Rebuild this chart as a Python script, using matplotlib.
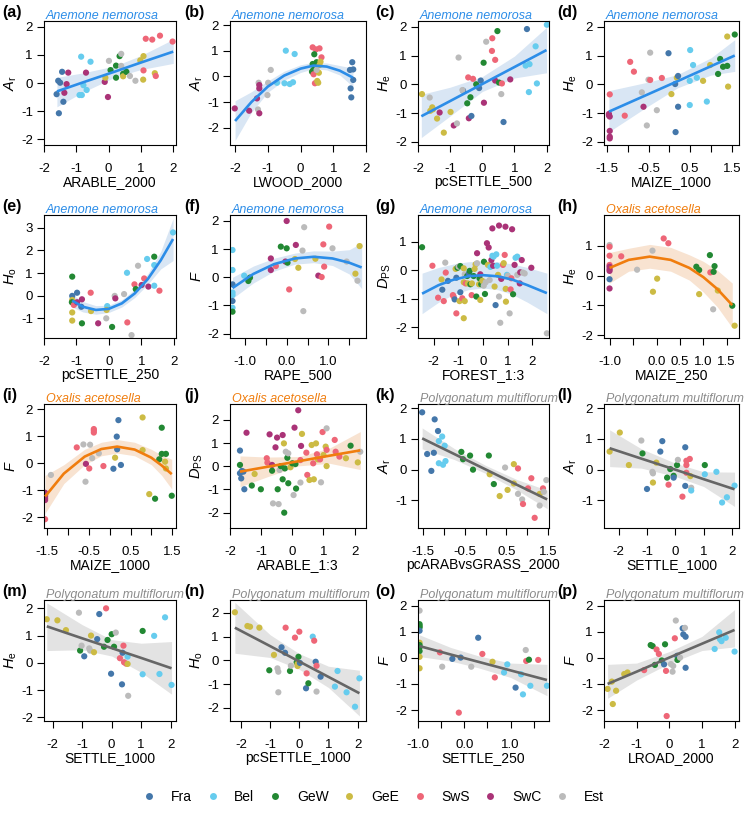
import matplotlib
matplotlib.use("Agg")
import matplotlib.pyplot as plt
from matplotlib.lines import Line2D

plt.rcParams["font.family"] = ["Liberation Sans", "DejaVu Sans"]
plt.rcParams["axes.unicode_minus"] = False
plt.rcParams["mathtext.fontset"] = "custom"
plt.rcParams["mathtext.it"] = "Liberation Sans:italic"
plt.rcParams["mathtext.rm"] = "Liberation Sans"

regions = ["Fra", "Bel", "GeW", "GeE", "SwS", "SwC", "Est"]
region_colors = ["#4477AA", "#66CCEE", "#228833", "#CCBB44", "#EE6677", "#AA3377", "#BBBBBB"]

species = ["Anemone nemorosa", "Oxalis acetosella", "Polygonatum multiflorum"]
species_text = ["#2C8DE8", "#F07D0E", "#8C8C8C"]
species_line = ["#2C8DE8", "#F07D0E", "#666666"]
species_band = ["#D9E6F4", "#F8E3D1", "#E3E3E3"]

# (x, y, region)
a_pts = [(-1.61, -0.40, "Fra"), (-1.54, -1.08, "Fra"), (-1.56, 0.08, "Fra"), (-1.50, 0.01, "Fra"),
         (-1.44, 0.40, "Fra"), (-1.40, -0.67, "Fra"), (-1.37, -0.35, "SwC"), (-1.30, -0.04, "SwC"),
         (-1.25, 0.37, "SwC"), (-0.85, 0.94, "Bel"), (-0.90, -0.43, "Bel"), (-0.83, -0.43, "Bel"),
         (-0.78, -0.08, "Bel"), (-0.70, 0.37, "SwC"), (-0.68, -0.25, "Bel"), (-0.56, 0.76, "Bel"),
         (-0.12, 0.04, "SwC"), (-0.10, 0.19, "GeE"), (-0.02, -0.50, "SwC"), (0.01, 0.79, "Est"),
         (0.06, 0.46, "GeW"), (0.23, 0.19, "GeW"), (0.23, 0.62, "GeW"), (0.34, 0.96, "GeW"),
         (0.39, 1.04, "Est"), (0.39, 0.61, "Est"), (0.45, 0.33, "GeW"), (0.45, 0.24, "GeE"),
         (0.55, 0.40, "GeW"), (0.66, 0.25, "Est"), (0.83, 0.08, "Est"), (0.98, 0.81, "GeE"),
         (1.07, 0.12, "GeE"), (1.08, 0.45, "SwS"), (1.08, 0.96, "GeE"), (1.15, 1.58, "SwS"),
         (1.35, 1.55, "SwS"), (1.43, 0.35, "GeE"), (1.46, 0.25, "SwS"), (1.59, 1.69, "SwS"),
         (1.98, 1.48, "SwS")]
a_fit_x = [-1.6, -0.8, 0.2, 1.0, 2.0]
a_fit_y = [-0.30, 0.02, 0.41, 0.73, 1.12]
a_lo = [-0.85, -0.33, 0.21, 0.48, 0.70]
a_hi = [0.20, 0.36, 0.61, 0.98, 1.56]

b_pts = [(-2.01, -1.25, "SwC"), (-1.57, -1.34, "SwC"), (-1.33, -0.86, "SwC"), (-1.28, -0.25, "Est"),
         (-1.26, -0.34, "SwC"), (-1.26, -0.47, "SwC"), (-1.30, -1.29, "Est"), (-1.26, -1.44, "SwC"),
         (-1.01, -0.73, "Est"), (-0.99, -0.25, "Est"), (-0.91, 0.25, "Est"), (-0.72, -0.25, "Bel"),
         (-0.49, -0.27, "Bel"), (-0.45, 1.00, "Bel"), (-0.33, -0.30, "Bel"), (-0.23, -0.23, "Bel"),
         (-0.18, 0.87, "Bel"), (0.37, 1.13, "SwS"), (0.47, 1.05, "SwS"), (0.58, 1.09, "SwS"),
         (0.64, 0.74, "SwS"), (0.42, 0.86, "GeW"), (0.37, 0.48, "GeW"), (0.49, 0.55, "GeW"),
         (0.39, 0.25, "GeW"), (0.35, 0.18, "GeW"), (0.40, 0.08, "SwS"), (0.44, -0.27, "SwS"),
         (0.51, -0.18, "GeE"), (0.54, -0.25, "GeE"), (0.56, 0.14, "GeE"), (0.58, 0.44, "GeE"),
         (0.61, 0.57, "GeE"), (0.49, 0.25, "Est"), (1.58, 0.55, "Fra"), (1.51, 0.25, "Fra"),
         (1.61, 0.27, "Fra"), (1.53, -0.47, "Fra"), (1.55, -0.82, "Fra"), (1.61, -0.14, "Fra")]
b_fit_x = [-2.0, -1.5, -1.0, -0.5, 0.0, 0.4, 0.8, 1.2, 1.6]
b_fit_y = [-1.74, -1.00, -0.40, 0.03, 0.30, 0.42, 0.38, 0.22, -0.05]
b_lo = [-2.50, -1.40, -0.62, -0.15, 0.15, 0.30, 0.25, 0.05, -0.40]
b_hi = [-0.95, -0.60, -0.18, 0.20, 0.45, 0.55, 0.52, 0.42, 0.32]

c_pts = [(-1.88, -0.34, "GeE"), (-1.64, -0.46, "Est"), (-1.62, -0.92, "GeE"), (-1.56, -0.80, "GeE"),
         (-1.54, -0.87, "GeE"), (-1.41, -1.19, "GeE"), (-1.33, -0.98, "SwC"), (-1.20, -1.68, "GeE"),
         (-0.99, -0.96, "GeE"), (-0.89, -1.43, "SwC"), (-0.74, 0.93, "Est"), (-0.79, -1.36, "Est"),
         (-0.60, -0.22, "Fra"), (-0.62, -0.20, "Est"), (-0.44, 0.24, "SwS"), (-0.37, -0.45, "GeW"),
         (-0.47, -0.66, "GeW"), (-0.42, -1.18, "SwC"), (-0.34, -1.10, "Fra"), (-0.29, 0.19, "SwS"),
         (-0.19, 0.00, "GeW"), (-0.10, -0.13, "Fra"), (-0.05, 0.13, "Fra"), (0.04, 0.75, "GeW"),
         (0.05, -0.64, "SwC"), (0.12, 1.48, "Est"), (0.31, 1.60, "SwS"), (0.30, 1.16, "SwS"),
         (0.40, 0.85, "SwS"), (0.40, 0.13, "SwC"), (0.47, 1.85, "GeW"), (0.52, 0.06, "GeW"),
         (0.61, 0.03, "SwS"), (0.59, -0.34, "Est"), (0.66, -1.31, "Fra"), (0.87, 0.17, "SwC"),
         (1.35, 0.65, "Bel"), (1.39, 1.92, "Fra"), (1.47, 0.70, "Bel"), (1.45, -0.27, "Bel"),
         (1.66, 1.32, "Bel"), (1.70, 0.03, "Bel"), (2.01, 2.07, "Bel")]
c_fit_x = [-1.9, -1.0, 0.0, 1.0, 2.0]
c_fit_y = [-1.11, -0.58, 0.01, 0.60, 1.19]
c_lo = [-1.85, -1.10, -0.25, 0.22, 0.40]
c_hi = [-0.35, -0.10, 0.27, 0.98, 1.98]

d_pts = [(-1.43, -0.35, "SwS"), (-1.45, -1.03, "SwC"), (-1.43, -1.12, "SwC"), (-1.45, -1.08, "SwC"),
         (-1.43, -1.62, "SwC"), (-1.43, -1.82, "SwC"), (-1.43, -1.88, "SwC"), (-1.07, -1.09, "SwS"),
         (-0.94, 0.78, "SwS"), (-0.85, 0.44, "SwS"), (-0.66, -0.28, "Est"), (-0.62, -0.78, "SwC"),
         (-0.54, -1.43, "Est"), (-0.50, 0.16, "Est"), (-0.46, 1.10, "Est"), (-0.46, 0.15, "SwS"),
         (-0.30, -0.90, "Est"), (-0.18, 0.22, "SwS"), (-0.02, 1.08, "Fra"), (0.05, -0.34, "GeE"),
         (0.14, 0.01, "Fra"), (0.15, -1.66, "Fra"), (0.18, 0.23, "GeE"), (0.21, 0.29, "Fra"),
         (0.21, -0.78, "Fra"), (0.50, 1.19, "Bel"), (0.49, 0.12, "Bel"), (0.49, -0.72, "Bel"),
         (0.57, 0.67, "Bel"), (0.66, 0.23, "Bel"), (0.81, 0.12, "GeE"), (0.90, -0.60, "Bel"),
         (0.98, 0.67, "GeE"), (1.17, 0.36, "GeW"), (1.22, 0.88, "GeW"), (1.29, 0.61, "GeW"),
         (1.39, 0.64, "GeW"), (1.39, 1.66, "GeE"), (1.41, -0.08, "GeE"), (1.57, 1.73, "GeW")]
d_fit_x = [-1.45, -0.5, 0.2, 1.0, 1.57]
d_fit_y = [-0.95, -0.34, 0.11, 0.63, 1.00]
d_lo = [-1.65, -0.75, -0.12, 0.32, 0.45]
d_hi = [-0.22, 0.08, 0.34, 0.92, 1.55]

e_pts = [(-1.13, 0.84, "GeW"), (-1.13, -0.01, "Fra"), (-1.13, -0.19, "GeE"), (-1.14, -0.29, "GeW"),
         (-1.13, -0.74, "GeE"), (-1.13, -1.10, "GeE"), (-1.08, -0.41, "SwS"), (-0.98, 0.13, "Fra"),
         (-0.98, -0.29, "SwC"), (-0.85, -0.49, "Fra"), (-0.83, -0.16, "SwC"), (-0.83, -1.22, "GeW"),
         (-0.56, 0.13, "SwS"), (-0.55, -0.68, "GeE"), (-0.33, -1.22, "SwC"), (-0.08, -1.00, "Est"),
         (-0.05, -0.46, "Bel"), (-0.07, -0.63, "GeE"), (0.10, -1.38, "GeW"), (0.18, -0.01, "Est"),
         (0.20, -0.12, "SwC"), (0.47, 0.07, "Est"), (0.56, 1.01, "Bel"), (0.57, -1.18, "SwS"),
         (0.70, -1.74, "Est"), (0.79, 0.50, "SwS"), (0.83, 0.29, "GeW"), (0.90, 1.32, "Est"),
         (1.01, 0.47, "SwC"), (1.09, 0.76, "SwS"), (1.18, 1.62, "Bel"), (1.22, 0.40, "SwC"),
         (1.40, 1.72, "GeW"), (1.40, 1.35, "Bel"), (1.40, 0.44, "Bel"), (1.56, 0.22, "SwS"),
         (1.98, 2.79, "Bel")]
e_fit_x = [-1.13, -0.8, -0.4, 0.0, 0.4, 0.8, 1.2, 1.6, 1.98]
e_fit_y = [-0.22, -0.49, -0.63, -0.58, -0.34, 0.10, 0.73, 1.56, 2.50]
e_lo = [-0.50, -0.72, -0.82, -0.74, -0.50, -0.08, 0.50, 1.18, 1.55]
e_hi = [0.05, -0.26, -0.44, -0.42, -0.18, 0.28, 0.96, 1.95, 3.40]

f_pts = [(-1.30, 0.97, "Bel"), (-1.30, 0.26, "Bel"), (-1.30, -0.25, "Fra"), (-1.30, -0.54, "Bel"),
         (-1.30, -0.63, "Bel"), (-1.30, -0.84, "Fra"), (-1.30, -1.08, "Bel"), (-1.30, -1.22, "GeW"),
         (-1.02, 0.06, "Bel"), (-0.92, -0.13, "GeW"), (-0.88, -0.01, "GeW"), (-0.38, 0.67, "SwC"),
         (-0.38, 0.26, "SwC"), (-0.26, 0.40, "SwS"), (-0.14, 1.09, "GeW"), (-0.03, 0.56, "SwC"),
         (0.00, 1.03, "GeW"), (0.02, 0.52, "GeW"), (0.00, 2.00, "SwC"), (0.06, -0.43, "SwS"),
         (0.22, 1.15, "SwC"), (0.20, 0.65, "GeE"), (0.28, 0.34, "GeE"), (0.38, 0.95, "Est"),
         (0.40, -1.20, "Est"), (0.42, 1.78, "Est"), (0.69, 0.66, "GeE"), (0.76, 0.06, "SwC"),
         (0.84, 0.01, "SwS"), (0.90, 0.38, "SwS"), (0.88, 1.17, "SwS"), (1.02, 1.80, "SwS"),
         (1.10, 1.03, "Est"), (1.44, 0.56, "Est"), (1.65, 0.13, "GeE"), (1.70, -0.12, "Est"),
         (1.75, 1.11, "GeE")]
f_fit_x = [-1.3, -0.8, -0.3, 0.2, 0.65, 1.1, 1.5, 1.8]
f_fit_y = [-0.38, 0.12, 0.47, 0.67, 0.73, 0.67, 0.52, 0.35]
f_lo = [-0.75, -0.20, 0.22, 0.47, 0.52, 0.42, 0.12, -0.40]
f_hi = [0.00, 0.40, 0.68, 0.86, 0.94, 0.93, 0.98, 1.22]

g_pts = [(-2.47, 0.81, "GeW"), (-2.05, 0.16, "SwS"), (-1.82, -0.96, "SwS"), (-1.65, -0.68, "Fra"),
         (-1.68, -0.32, "GeE"), (-1.59, -1.08, "SwS"), (-1.53, 0.27, "Est"), (-1.51, -0.08, "SwS"),
         (-1.42, -0.37, "Fra"), (-1.22, -0.87, "SwS"), (-1.19, -0.92, "SwS"), (-1.15, -1.02, "Fra"),
         (-1.11, 0.05, "GeE"), (-1.08, -1.51, "SwS"), (-1.08, -0.26, "Fra"), (-1.03, 0.09, "GeW"),
         (-0.99, 0.13, "Est"), (-0.92, 0.15, "GeW"), (-0.92, -0.77, "Fra"), (-0.95, -1.08, "GeE"),
         (-0.84, -0.98, "SwS"), (-0.78, 0.07, "GeE"), (-0.78, -0.42, "GeE"), (-0.74, -1.08, "GeE"),
         (-0.74, -0.14, "Est"), (-0.78, -1.68, "GeE"), (-0.70, -0.46, "SwS"), (-0.64, -0.20, "GeW"),
         (-0.61, -0.46, "GeE"), (-0.57, -0.11, "Fra"), (-0.54, -0.02, "GeW"), (-0.51, -0.49, "GeW"),
         (-0.46, -0.87, "SwS"), (-0.45, -0.46, "GeE"), (-0.38, -0.20, "GeW"), (-0.34, 0.05, "GeE"),
         (-0.30, 0.21, "GeE"), (-0.27, -0.92, "GeW"), (-0.24, 0.25, "Est"), (-0.24, 0.60, "SwC"),
         (-0.16, -0.49, "GeE"), (-0.14, -0.28, "GeW"), (-0.11, -0.14, "SwC"), (-0.11, -1.04, "GeE"),
         (-0.07, -0.49, "GeW"), (-0.03, -0.37, "GeE"), (0.03, -0.54, "Est"), (0.04, 0.30, "GeW"),
         (0.08, -0.83, "GeW"), (0.11, -0.42, "Est"), (0.16, 0.95, "SwC"), (0.20, 0.19, "GeE"),
         (0.23, 0.80, "SwC"), (0.27, -0.34, "Est"), (0.30, 0.12, "Bel"), (0.34, 0.36, "SwC"),
         (0.38, 1.47, "SwC"), (0.38, 0.51, "Bel"), (0.41, 0.16, "SwC"), (0.43, 0.48, "Bel"),
         (0.47, -0.57, "GeE"), (0.51, -1.22, "Fra"), (0.54, 0.56, "Bel"), (0.57, 0.16, "Bel"),
         (0.61, -0.16, "GeE"), (0.65, 1.57, "SwC"), (0.65, -0.92, "Est"), (0.70, -1.84, "Est"),
         (0.74, -0.30, "SwC"), (0.81, 0.19, "SwS"), (0.84, 0.25, "GeE"), (0.88, 0.54, "SwS"),
         (0.91, 1.53, "SwC"), (0.92, -0.65, "GeE"), (0.93, -1.10, "GeE"), (0.97, -0.16, "Bel"),
         (1.01, -0.19, "Est"), (1.08, -1.51, "Est"), (1.12, -0.67, "SwS"), (1.15, -0.28, "SwS"),
         (1.18, 1.44, "SwC"), (1.22, -0.84, "GeW"), (1.28, 0.19, "SwC"), (1.32, 0.44, "Bel"),
         (1.39, 0.48, "Bel"), (1.39, -0.16, "Est"), (1.49, -0.46, "SwC"), (1.51, -0.07, "SwC"),
         (1.57, 0.36, "SwC"), (1.62, -0.08, "Est"), (1.69, -0.11, "Est"), (1.96, 0.09, "SwC"),
         (2.59, -2.21, "Est")]
g_fit_x = [-2.47, -1.8, -1.2, -0.6, 0.0, 0.6, 1.2, 1.8, 2.59]
g_fit_y = [-0.82, -0.52, -0.33, -0.21, -0.17, -0.21, -0.33, -0.52, -0.80]
g_lo = [-1.52, -1.12, -0.85, -0.68, -0.62, -0.68, -0.85, -1.12, -1.52]
g_hi = [-0.10, 0.10, 0.22, 0.30, 0.32, 0.30, 0.22, 0.10, -0.10]

h_pts = [(-1.01, 1.03, "Est"), (-1.01, 0.97, "SwS"), (-1.01, 0.67, "SwS"), (-1.01, 0.36, "SwS"),
         (-1.01, 0.30, "SwC"), (-1.01, 0.22, "SwC"), (-1.01, 0.16, "SwC"), (-1.01, -0.12, "Fra"),
         (-1.01, -0.43, "SwC"), (-0.76, 0.65, "SwS"), (-0.42, 0.20, "Est"), (-0.09, 0.84, "Est"),
         (-0.08, -0.54, "GeE"), (0.01, -0.10, "GeE"), (0.15, 1.25, "SwS"), (0.25, 1.09, "SwS"),
         (0.85, 0.30, "GeW"), (0.91, 0.19, "GeW"), (0.91, -0.62, "GeE"), (1.14, 0.69, "GeW"),
         (1.15, 0.11, "SwS"), (1.22, 0.13, "GeW"), (1.24, 0.32, "GeW"), (1.21, -1.13, "Est"),
         (1.31, -0.50, "GeE"), (1.62, -1.01, "GeW"), (1.67, -1.68, "GeE")]
h_fit_x = [-1.01, -0.6, -0.15, 0.3, 0.7, 1.0, 1.3, 1.62]
h_fit_y = [0.26, 0.53, 0.64, 0.53, 0.26, -0.05, -0.45, -0.99]
h_lo = [-0.25, 0.15, 0.25, 0.15, -0.15, -0.55, -1.05, -1.75]
h_hi = [0.78, 0.92, 1.05, 0.95, 0.70, 0.48, 0.18, -0.25]

i_pts = [(-1.55, -1.09, "SwC"), (-1.55, -1.17, "SwC"), (-1.55, -1.23, "SwC"), (-1.55, -1.30, "SwC"),
         (-1.55, -1.36, "SwC"), (-1.55, -2.07, "SwS"), (-1.41, -0.43, "Est"), (-0.79, 0.59, "SwS"),
         (-0.63, 0.70, "Est"), (-0.57, -0.02, "SwC"), (-0.58, -0.68, "Est"), (-0.49, -0.19, "SwS"),
         (-0.47, 0.69, "Est"), (-0.42, 0.19, "Est"), (-0.38, 1.27, "SwS"), (-0.38, 1.21, "SwS"),
         (-0.38, 1.14, "SwS"), (-0.26, 0.37, "Est"), (-0.15, -0.10, "SwS"), (0.09, -0.20, "Fra"),
         (0.13, 0.21, "GeE"), (0.17, 0.99, "Fra"), (0.18, 0.52, "Fra"), (0.21, 1.60, "Fra"),
         (0.27, -0.06, "Fra"), (0.79, 1.70, "GeE"), (0.79, 0.49, "GeE"), (0.95, -1.14, "GeE"),
         (1.09, -1.31, "GeW"), (1.19, 0.15, "GeW"), (1.25, 1.32, "GeW"), (1.25, 0.35, "GeW"),
         (1.35, 0.35, "GeW"), (1.33, 0.06, "GeE"), (1.35, -0.19, "GeE"), (1.49, -1.20, "GeW")]
i_fit_x = [-1.55, -1.1, -0.6, -0.2, 0.18, 0.6, 1.0, 1.25, 1.49]
i_fit_y = [-1.23, -0.38, 0.25, 0.53, 0.62, 0.51, 0.21, -0.08, -0.40]
i_lo = [-1.85, -0.75, -0.05, 0.28, 0.38, 0.28, -0.05, -0.45, -0.95]
i_hi = [-0.45, -0.05, 0.52, 0.78, 0.88, 0.78, 0.52, 0.30, 0.15]

j_pts = [(-1.68, 0.68, "Fra"), (-1.68, 0.06, "GeW"), (-1.68, -0.30, "Fra"), (-1.64, -0.52, "Fra"),
         (-1.62, -0.20, "Fra"), (-1.57, -0.23, "Fra"), (-1.54, -0.99, "Fra"), (-1.47, 1.45, "SwC"),
         (-1.30, -0.83, "GeW"), (-1.21, -0.33, "GeE"), (-1.01, -0.99, "GeW"), (-0.82, 0.35, "SwS"),
         (-0.80, 0.16, "SwS"), (-0.73, 1.38, "SwC"), (-0.65, 0.06, "SwC"), (-0.65, -0.19, "GeW"),
         (-0.62, -1.60, "Est"), (-0.54, 0.82, "SwC"), (-0.49, 1.24, "SwC"), (-0.47, -0.99, "GeW"),
         (-0.44, -1.63, "Est"), (-0.41, -0.16, "Est"), (-0.37, 0.01, "GeW"), (-0.31, 1.35, "SwC"),
         (-0.31, -0.56, "GeW"), (-0.27, 0.99, "GeE"), (-0.26, -2.00, "GeW"), (-0.24, -0.09, "GeW"),
         (-0.21, 0.63, "Est"), (-0.16, 0.37, "GeW"), (-0.13, 0.56, "Est"), (-0.13, -0.73, "GeW"),
         (-0.06, -0.04, "GeE"), (0.00, 0.13, "GeW"), (0.04, -1.24, "Est"), (0.07, 1.67, "SwC"),
         (0.10, 0.10, "GeW"), (0.12, -0.96, "GeW"), (0.19, 2.42, "SwC"), (0.26, -0.70, "Est"),
         (0.26, 0.27, "SwS"), (0.28, 0.88, "SwC"), (0.31, 1.40, "GeE"), (0.45, 0.59, "SwS"),
         (0.48, -0.37, "SwS"), (0.55, -0.59, "GeE"), (0.62, 0.92, "GeE"), (0.67, 0.13, "SwS"),
         (0.69, -0.56, "GeE"), (0.76, 0.99, "GeE"), (0.79, 0.52, "SwS"), (0.82, 0.30, "GeE"),
         (0.89, 0.30, "SwS"), (0.92, -0.69, "Est"), (0.97, 1.48, "SwS"), (1.00, 0.49, "GeE"),
         (1.07, 0.85, "GeE"), (1.10, 0.71, "SwS"), (1.10, 0.01, "GeE"), (1.10, 1.64, "Est"),
         (1.36, 1.14, "SwS"), (1.39, 0.63, "SwS"), (1.51, 0.42, "SwS"), (1.72, 0.35, "GeE"),
         (1.87, 0.89, "GeW"), (2.10, 0.17, "GeE"), (2.18, 0.63, "Est")]
j_fit_x = [-1.68, -0.8, 0.2, 1.2, 2.18]
j_fit_y = [-0.23, -0.02, 0.22, 0.46, 0.69]
j_lo = [-0.88, -0.45, 0.02, 0.13, -0.14]
j_hi = [0.45, 0.40, 0.42, 0.79, 1.50]

k_pts = [(-1.52, 1.87, "Fra"), (-1.40, 0.51, "Fra"), (-1.30, -0.04, "Fra"), (-1.24, 0.55, "Fra"),
         (-1.22, 1.64, "Fra"), (-1.14, 1.26, "Fra"), (-1.12, 0.93, "Bel"), (-1.12, 0.21, "Bel"),
         (-1.04, 1.08, "Bel"), (-1.02, 0.16, "Bel"), (-0.98, 0.78, "Bel"), (-0.96, 0.28, "Bel"),
         (-0.58, 0.58, "GeW"), (-0.54, 0.34, "GeW"), (-0.37, 0.46, "GeW"), (-0.30, 0.00, "GeW"),
         (0.08, 0.46, "GeW"), (0.10, -0.15, "GeE"), (0.20, -0.47, "GeW"), (0.34, -0.86, "GeE"),
         (0.47, 0.07, "Est"), (0.53, -0.66, "GeE"), (0.68, 0.18, "GeE"), (0.68, -0.45, "GeE"),
         (0.78, 0.04, "SwS"), (0.78, -0.79, "Est"), (0.88, -0.97, "Est"), (0.90, -1.12, "SwS"),
         (1.02, -0.61, "SwS"), (1.10, -0.28, "SwS"), (1.18, -1.57, "SwS"), (1.30, -1.17, "Est"),
         (1.30, -0.79, "GeE"), (1.38, -0.61, "SwS"), (1.40, -0.72, "Est"), (1.46, -0.34, "Est")]
k_fit_x = [-1.52, -0.75, 0.0, 0.75, 1.48]
k_fit_y = [1.02, 0.51, 0.01, -0.49, -0.97]
k_lo = [0.68, 0.33, -0.12, -0.66, -1.27]
k_hi = [1.36, 0.69, 0.14, -0.32, -0.67]

l_pts = [(-2.32, 0.59, "GeE"), (-1.96, 1.21, "GeE"), (-1.64, 0.15, "GeE"), (-1.20, 0.95, "Est"),
         (-1.16, 0.53, "GeW"), (-1.00, -0.63, "Fra"), (-0.81, -0.07, "Est"), (-0.79, -0.12, "Est"),
         (-0.79, -0.42, "GeE"), (-0.67, 0.23, "GeE"), (-0.53, 0.59, "Fra"), (-0.46, 0.93, "Fra"),
         (-0.29, -0.26, "GeW"), (-0.24, -0.49, "SwS"), (-0.18, 0.02, "GeW"), (-0.06, -0.20, "GeW"),
         (-0.06, -0.26, "Fra"), (0.06, 0.15, "GeW"), (0.09, 0.32, "Est"), (0.25, -0.88, "SwS"),
         (0.35, -0.53, "Fra"), (0.35, 0.73, "Fra"), (0.39, 0.29, "SwS"), (0.39, 0.15, "SwS"),
         (0.39, -0.10, "SwS"), (0.51, 0.35, "SwS"), (0.53, -0.21, "GeE"), (0.56, -0.59, "Est"),
         (0.56, -0.68, "Bel"), (1.04, 0.15, "GeW"), (1.04, -0.15, "Bel"), (1.45, -0.07, "Bel"),
         (1.82, -0.90, "Bel"), (1.65, -1.07, "Bel"), (2.09, -0.52, "Bel")]
l_fit_x = [-2.32, -1.2, 0.0, 1.0, 2.09]
l_fit_y = [0.70, 0.36, 0.00, -0.31, -0.64]
l_lo = [0.10, 0.05, -0.22, -0.55, -1.20]
l_hi = [1.30, 0.68, 0.21, -0.07, -0.08]

m_pts = [(-2.20, 1.60, "GeE"), (-1.84, 1.56, "GeE"), (-1.55, 1.20, "GeE"), (-1.11, 1.84, "Est"),
         (-1.07, 0.45, "GeW"), (-1.02, 0.63, "Est"), (-0.93, 0.24, "Fra"), (-0.76, 0.53, "Est"),
         (-0.73, 0.45, "Est"), (-0.70, 1.00, "GeE"), (-0.60, 0.39, "GeE"), (-0.49, 0.87, "Fra"),
         (-0.42, 1.79, "Fra"), (-0.26, 0.59, "GeW"), (-0.19, 2.00, "SwS"), (-0.14, 0.84, "GeW"),
         (-0.02, -0.40, "Fra"), (0.00, 1.05, "GeW"), (0.08, 0.59, "GeW"), (0.14, 1.11, "Est"),
         (0.28, 0.17, "SwS"), (0.35, -0.79, "Fra"), (0.37, 0.37, "Fra"), (0.40, 0.63, "SwS"),
         (0.42, 0.02, "SwS"), (0.49, -0.03, "SwS"), (0.54, -0.04, "GeE"), (0.54, 0.23, "Bel"),
         (0.56, -1.21, "Est"), (1.05, -0.42, "Bel"), (1.05, 1.17, "GeW"), (1.44, 0.99, "Bel"),
         (1.62, -0.41, "Bel"), (1.81, 1.67, "Bel"), (2.03, -0.81, "Bel")]
m_fit_x = [-2.2, -1.0, 0.0, 1.0, 2.03]
m_fit_y = [1.34, 0.90, 0.54, 0.18, -0.20]
m_lo = [0.45, 0.48, 0.25, -0.35, -1.15]
m_hi = [2.20, 1.40, 0.85, 0.72, 0.78]

n_pts = [(-2.21, 2.03, "GeE"), (-1.78, 1.45, "GeE"), (-1.69, 1.42, "GeE"), (-1.37, 1.38, "GeE"),
         (-1.03, -0.42, "GeW"), (-0.87, 0.23, "GeE"), (-0.75, -0.34, "Est"), (-0.72, -1.35, "Est"),
         (-0.72, -0.48, "Est"), (-0.61, 0.55, "Fra"), (-0.49, 0.32, "Fra"), (-0.47, 1.38, "SwS"),
         (-0.32, -0.45, "GeW"), (-0.29, -0.23, "Est"), (-0.15, 0.96, "SwS"), (-0.09, -0.08, "GeW"),
         (-0.06, -0.24, "GeE"), (-0.06, -0.15, "GeE"), (-0.03, 0.15, "GeW"), (0.00, 1.21, "SwS"),
         (0.02, -0.11, "Fra"), (0.23, -1.18, "Fra"), (0.25, -0.55, "SwS"), (0.31, -0.97, "GeW"),
         (0.46, 1.00, "Bel"), (0.51, 0.83, "SwS"), (0.56, -0.06, "Fra"), (0.59, -0.23, "SwS"),
         (0.59, -1.32, "Est"), (0.73, -0.69, "Fra"), (1.22, -1.11, "Bel"), (1.31, -0.45, "Bel"),
         (1.62, -1.35, "Bel"), (1.91, -1.96, "Bel"), (2.06, -0.76, "Bel")]
n_fit_x = [-2.21, -1.0, 0.0, 1.0, 2.06]
n_fit_y = [1.38, 0.60, -0.05, -0.70, -1.39]
n_lo = [0.30, 0.12, -0.38, -1.15, -2.35]
n_hi = [2.45, 1.08, 0.28, -0.25, -0.42]

o_pts = [(-0.97, 1.81, "Est"), (-0.97, 1.29, "GeW"), (-0.97, 1.22, "GeW"), (-0.97, 1.16, "GeW"),
         (-0.97, 1.04, "Fra"), (-0.97, 0.58, "GeE"), (-0.97, 0.49, "GeW"), (-0.97, 0.41, "GeW"),
         (-0.97, 0.26, "GeW"), (-0.97, 0.04, "GeE"), (-0.97, -0.40, "GeE"), (-0.53, 0.21, "SwS"),
         (-0.48, -0.34, "Est"), (-0.26, -0.04, "Fra"), (-0.08, 0.01, "Fra"), (-0.12, -2.10, "SwS"),
         (0.15, -0.34, "Est"), (0.30, 0.77, "Fra"), (0.39, 0.15, "SwS"), (0.61, -0.15, "GeE"),
         (0.66, -0.75, "SwS"), (0.86, -0.56, "Bel"), (0.93, -0.25, "Bel"), (1.11, -1.14, "Fra"),
         (1.23, -0.63, "Bel"), (1.27, -1.40, "Bel"), (1.33, 0.30, "Est"), (1.34, -0.12, "SwS"),
         (1.40, -0.07, "GeW"), (1.43, -1.07, "Bel"), (1.60, -0.08, "SwS"), (1.79, -1.07, "Bel")]
o_fit_x = [-0.97, -0.3, 0.3, 1.0, 1.79]
o_fit_y = [0.45, 0.13, -0.15, -0.48, -0.85]
o_lo = [0.05, -0.12, -0.38, -0.75, -1.45]
o_hi = [0.88, 0.40, 0.08, -0.20, -0.25]

p_pts = [(-1.89, -1.19, "GeE"), (-1.76, -0.91, "GeE"), (-1.73, -1.77, "GeE"), (-1.63, -1.26, "GeE"),
         (-1.38, -0.62, "GeE"), (-1.28, -0.56, "GeE"), (-0.77, -0.47, "SwS"), (-0.57, 0.49, "GeW"),
         (-0.51, 0.45, "GeW"), (-0.44, -0.27, "GeW"), (-0.39, 0.32, "SwS"), (-0.32, 0.15, "SwS"),
         (-0.23, -0.10, "GeW"), (-0.16, -0.25, "Fra"), (-0.13, 0.52, "GeW"), (-0.10, -0.50, "SwS"),
         (-0.08, -2.23, "SwS"), (0.05, -0.24, "Est"), (0.10, -0.53, "Est"), (0.12, -0.31, "Est"),
         (0.17, 0.75, "SwS"), (0.20, 1.43, "Est"), (0.24, 0.08, "Fra"), (0.25, -0.08, "GeW"),
         (0.33, 0.01, "Est"), (0.41, 1.13, "Fra"), (0.43, 0.90, "Fra"), (0.48, 1.15, "Est"),
         (0.50, 0.81, "Fra"), (0.50, -0.38, "Fra"), (1.39, 0.34, "Bel"), (1.53, 0.98, "Bel"),
         (1.55, 0.72, "Bel"), (1.60, 0.64, "Bel"), (1.73, 0.77, "Bel"), (2.00, 0.24, "Bel")]
p_fit_x = [-1.89, -1.0, 0.0, 1.0, 2.0]
p_fit_y = [-1.00, -0.53, 0.01, 0.54, 1.07]
p_lo = [-1.55, -0.85, -0.22, 0.28, 0.42]
p_hi = [-0.25, -0.20, 0.24, 0.82, 1.85]

x_labels = ["ARABLE_2000", "LWOOD_2000", "pcSETTLE_500", "MAIZE_1000",
            "pcSETTLE_250", "RAPE_500", "FOREST_1:3", "MAIZE_250",
            "MAIZE_1000", "ARABLE_1:3", "pcARABvsGRASS_2000", "SETTLE_1000",
            "SETTLE_1000", "pcSETTLE_1000", "SETTLE_250", "LROAD_2000"]
y_labels = [r"$A_\mathrm{r}$", r"$A_\mathrm{r}$", r"$H_\mathrm{e}$", r"$H_\mathrm{e}$",
            r"$H_\mathrm{o}$", r"$F$", r"$D_\mathrm{PS}$", r"$H_\mathrm{e}$",
            r"$F$", r"$D_\mathrm{PS}$", r"$A_\mathrm{r}$", r"$A_\mathrm{r}$",
            r"$H_\mathrm{e}$", r"$H_\mathrm{o}$", r"$F$", r"$F$"]
panel_species = [0, 0, 0, 0, 0, 0, 0, 1, 1, 1, 2, 2, 2, 2, 2, 2]

# tick sets
T_int = ([-2, -1, 0, 1, 2], ["-2", "-1", "0", "1", "2"])
T_half = ([-1.5, -1, -0.5, 0, 0.5, 1, 1.5], ["-1.5", "", "-0.5", "", "0.5", "", "1.5"])
T_dec = ([-1, -0.5, 0, 0.5, 1, 1.5], ["-1.0", "", "0.0", "", "1.0", ""])
T_h = ([-1, -0.5, 0, 0.5, 1, 1.5], ["-1.0", "", "0.0", "0.5", "1.0", "1.5"])

panels = [
    ("a", a_pts, a_fit_x, a_fit_y, a_lo, a_hi, (-1.686, 2.086), (-2.214, 2.214), T_int, [-2, -1, 0, 1, 2]),
    ("b", b_pts, b_fit_x, b_fit_y, b_lo, b_hi, (-2.155, 1.806), (-2.675, 2.156), T_int, [-2, -1, 0, 1, 2]),
    ("c", c_pts, c_fit_x, c_fit_y, c_lo, c_hi, (-2.004, 2.077), (-2.109, 2.20), T_int, [-2, -1, 0, 1, 2]),
    ("d", d_pts, d_fit_x, d_fit_y, d_lo, d_hi, (-1.568, 1.672), (-2.109, 2.20), T_half, [-2, -1, 0, 1, 2]),
    ("e", e_pts, e_fit_x, e_fit_y, e_lo, e_hi, (-1.21, 2.071), (-1.868, 3.56), T_int, [-1, 0, 1, 2, 3]),
    ("f", f_pts, f_fit_x, f_fit_y, f_lo, f_hi, (-1.36, 1.904), (-2.154, 2.213), T_dec, [-2, -1, 0, 1, 2]),
    ("g", g_pts, g_fit_x, g_fit_y, g_lo, g_hi, (-2.635, 2.676), (-2.374, 1.94), T_int, [-2, -1, 0, 1]),
    ("h", h_pts, h_fit_x, h_fit_y, h_lo, h_hi, (-1.129, 1.764), (-2.094, 2.038), T_h, [-2, -1, 0, 1]),
    ("i", i_pts, i_fit_x, i_fit_y, i_lo, i_hi, (-1.576, 1.592), (-2.395, 2.198), T_half, [-2, -1, 0, 1, 2]),
    ("j", j_pts, j_fit_x, j_fit_y, j_lo, j_hi, (-1.829, 2.364), (-2.662, 2.69), T_int, [-2, -1, 0, 1, 2]),
    ("k", k_pts, k_fit_x, k_fit_y, k_lo, k_hi, (-1.62, 1.524), (-1.902, 2.141), T_half, [-1, 0, 1, 2]),
    ("l", l_pts, l_fit_x, l_fit_y, l_lo, l_hi, (-2.518, 2.247), (-1.902, 2.141), T_int, [-1, 0, 1, 2]),
    ("m", m_pts, m_fit_x, m_fit_y, m_lo, m_hi, (-2.294, 2.181), (-2.135, 2.306), T_int, [-2, -1, 0, 1, 2]),
    ("n", n_pts, n_fit_x, n_fit_y, n_lo, n_hi, (-2.377, 2.286), (-2.563, 2.549), T_int, [-2, -1, 0, 1, 2]),
    ("o", o_pts, o_fit_x, o_fit_y, o_lo, o_hi, (-1.004, 1.834), (-2.42, 2.217), T_dec, [-2, -1, 0, 1, 2]),
    ("p", p_pts, p_fit_x, p_fit_y, p_lo, p_hi, (-1.984, 2.136), (-2.42, 2.217), T_int, [-2, -1, 0, 1, 2]),
]

W, H = 746, 813
col_l = [44, 230, 418, 604]
col_r = [176, 366, 549, 739]
row_t = [21, 215, 404, 600]
row_b = [145, 338, 528, 721]
tag_x = [2, 184, 375, 557]

fig = plt.figure(figsize=(W / 100, H / 100), dpi=100)
rcol = dict(zip(regions, region_colors))

for i, (tag, pts, fx, fy, lo, hi, xlim, ylim, xt, yt) in enumerate(panels):
    r, c = divmod(i, 4)
    l, rr, t, b = col_l[c], col_r[c], row_t[r], row_b[r]
    w, h = rr - l, b - t
    ax = fig.add_axes([l / W, 1 - b / H, w / W, h / H])
    sp = panel_species[i]
    ax.fill_between(fx, lo, hi, color=species_band[sp], lw=0, zorder=1)
    ax.scatter([p[0] for p in pts], [p[1] for p in pts], c=[rcol[p[2]] for p in pts],
               s=20, linewidths=0, zorder=2)
    ax.plot(fx, fy, color=species_line[sp], lw=1.9, zorder=3, solid_capstyle="butt")
    ax.set_xlim(xlim)
    ax.set_ylim(ylim)
    ax.set_xticks(xt[0])
    ax.set_xticklabels(xt[1])
    ax.set_yticks(yt)
    ax.set_yticklabels([str(v) for v in yt])
    ax.tick_params(axis="both", direction="out", length=5, width=0.8, labelsize=9.5, colors="black")
    ax.tick_params(axis="x", pad=8)
    ax.tick_params(axis="y", pad=3)
    for s in ax.spines.values():
        s.set_linewidth(0.8)
    ax.set_xlabel(x_labels[i], fontsize=10, va="center")
    ax.xaxis.set_label_coords(0.5, -37 / h)
    ax.set_ylabel(y_labels[i], fontsize=10.5, va="center")
    ax.yaxis.set_label_coords(-33 / w, 0.5)
    fig.text((l + 2) / W, 1 - (t - 2) / H, species[sp], color=species_text[sp],
             fontsize=9, style="italic", ha="left", va="baseline")
    fig.text(tag_x[c] / W, 1 - (t - 8.5) / H, "(" + tag + ")", fontsize=11.5,
             fontweight="bold", ha="left", va="center")

handles = [Line2D([], [], marker="o", ls="", color=col, markersize=5, markeredgewidth=0)
           for col in region_colors]
fig.legend(handles, regions, loc="center", bbox_to_anchor=(0.5, 1 - 797 / H), ncol=7,
           frameon=False, fontsize=10, handletextpad=1.05, columnspacing=1.0, handlelength=1.0)

fig.savefig("out.png", dpi=100)
